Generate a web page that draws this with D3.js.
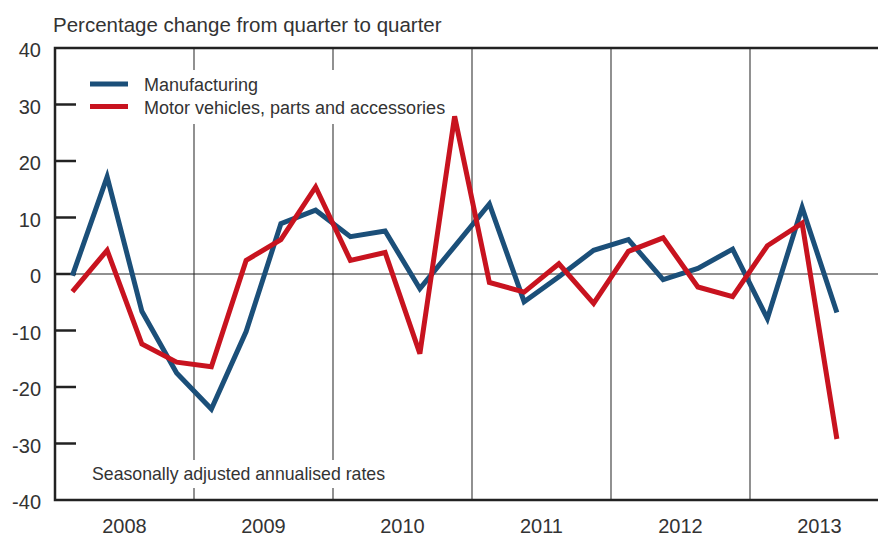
<!DOCTYPE html>
<html>
<head>
<meta charset="utf-8">
<script src="https://cdn.jsdelivr.net/npm/d3@7"></script>
<style>
  body { margin: 0; background: #fff; }
  svg text { font-family: "Liberation Sans", Arial, sans-serif; fill: #333; }
</style>
</head>
<body>
<div id="chart"></div>
<script>
const years = ["2008", "2009", "2010", "2011", "2012", "2013"];
const quarters = years.flatMap(y => ["Q1", "Q2", "Q3", "Q4"].map(q => y + q));

// 2008Q1 .. 2013Q3
const manufacturing = [-0.3, 17.2, -6.6, -17.5, -23.9, -10.2, 8.9, 11.3,
  6.6, 7.6, -2.6, 4.9, 12.4, -4.9, -0.5, 4.2,
  6.1, -1.0, 1.0, 4.4, -7.9, 11.8, -6.8];
const motorVehicles = [-3.1, 4.2, -12.4, -15.6, -16.4, 2.4, 6.1, 15.4,
  2.4, 3.8, -14.1, 27.9, -1.5, -3.2, 1.8, -5.2,
  4.0, 6.4, -2.3, -4.0, 5.0, 9.0, -29.2];
const yTicks = [-40, -30, -20, -10, 0, 10, 20, 30, 40];

const width = 878, height = 536;
const mLeft = 55, mTop = 48, mBottom = 500;
const plotRight = mLeft + 834;

const svg = d3.select("#chart").append("svg")
  .attr("width", width)
  .attr("height", height);

const x = d3.scaleBand().domain(quarters).range([mLeft, plotRight]);
const xYear = d3.scaleBand().domain(years).range([mLeft, plotRight]);
const y = d3.scaleLinear().domain([-40, 40]).range([mBottom, mTop]);
const cx = i => x(quarters[i]) + x.bandwidth() / 2;

// year dividers
svg.selectAll(".div")
  .data(years.slice(1))
  .enter().append("line")
  .attr("x1", d => xYear(d)).attr("x2", d => xYear(d))
  .attr("y1", mTop).attr("y2", mBottom)
  .attr("stroke", "#555").attr("stroke-width", 1.3);

// zero line
svg.append("line")
  .attr("x1", mLeft).attr("x2", width)
  .attr("y1", y(0)).attr("y2", y(0))
  .attr("stroke", "#222").attr("stroke-width", 1);

// white boxes behind legend and note
svg.append("rect").attr("x", 84).attr("y", 70).attr("width", 370).attr("height", 54).attr("fill", "#fff");
svg.append("rect").attr("x", 86).attr("y", 460).attr("width", 306).attr("height", 28).attr("fill", "#fff");

// left ticks
svg.selectAll(".tick")
  .data(yTicks.filter(d => d > -40 && d < 40))
  .enter().append("line")
  .attr("x1", mLeft).attr("x2", mLeft + 21)
  .attr("y1", d => y(d)).attr("y2", d => y(d))
  .attr("stroke", "#222").attr("stroke-width", 2.5);

svg.selectAll(".ylab")
  .data(yTicks)
  .enter().append("text")
  .attr("x", 41).attr("y", d => y(d) + 9)
  .attr("text-anchor", "end")
  .attr("font-size", 20)
  .text(d => d);

// frame: top, left, bottom
svg.append("path")
  .attr("d", `M${width},${mTop}H${mLeft}V${mBottom}H${width}`)
  .attr("fill", "none")
  .attr("stroke", "#222").attr("stroke-width", 2.5);

// year labels
svg.selectAll(".xlab")
  .data(years)
  .enter().append("text")
  .attr("x", d => xYear(d) + xYear.bandwidth() / 2)
  .attr("y", 533)
  .attr("text-anchor", "middle")
  .attr("font-size", 20)
  .text(d => d);

const line = d3.line()
  .x((d, i) => cx(i))
  .y(d => y(d));

svg.append("path")
  .datum(manufacturing)
  .attr("fill", "none")
  .attr("stroke", "#1b4f79")
  .attr("stroke-width", 5)
  .attr("d", line);

svg.append("path")
  .datum(motorVehicles)
  .attr("fill", "none")
  .attr("stroke", "#c8131f")
  .attr("stroke-width", 5)
  .attr("d", line);

// legend
const legend = [["Manufacturing", "#1b4f79"], ["Motor vehicles, parts and accessories", "#c8131f"]];
legend.forEach(([name, color], i) => {
  const ly = 84 + i * 22.5;
  svg.append("line")
    .attr("x1", 90).attr("x2", 128)
    .attr("y1", ly).attr("y2", ly)
    .attr("stroke", color).attr("stroke-width", 5);
  svg.append("text")
    .attr("x", 144).attr("y", ly + 7)
    .attr("font-size", 18)
    .text(name);
});

svg.append("text")
  .attr("x", 53).attr("y", 32)
  .attr("font-size", 20.5)
  .text("Percentage change from quarter to quarter");

svg.append("text")
  .attr("x", 92).attr("y", 480)
  .attr("font-size", 17.7)
  .text("Seasonally adjusted annualised rates");
</script>
</body>
</html>
